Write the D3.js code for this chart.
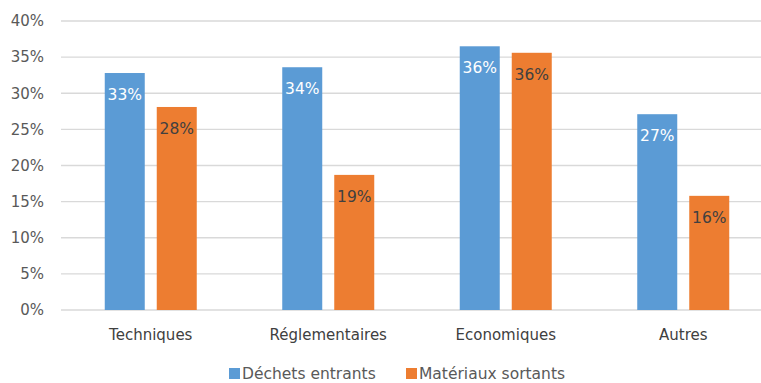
<!DOCTYPE html>
<html><head><meta charset="utf-8">
<script src="https://cdn.jsdelivr.net/npm/d3@7"></script>
<style>body{margin:0;background:#fff}svg{display:block}text{font-family:"DejaVu Sans",Verdana,sans-serif}</style>
</head><body>
<svg id="c" width="761" height="383"></svg>
<script>
const categories = ["Techniques","Réglementaires","Economiques","Autres"];
const seriesNames = ["Déchets entrants","Matériaux sortants"];
const dechets = [32.8, 33.6, 36.5, 27.1];
const materiaux = [28.1, 18.7, 35.6, 15.8];
const labelsDechets = ["33%","34%","36%","27%"];
const labelsMateriaux = ["28%","19%","36%","16%"];
const yTicks = [0,5,10,15,20,25,30,35,40];
const colors = ["#5B9BD5","#ED7D31"];

const FONT = "DejaVu Sans, Verdana, sans-serif";
const svg = d3.select("#c");
const x = d3.scaleBand().domain(categories).range([62, 772]);
const y = d3.scaleLinear().domain([0,40]).range([310, 21]);
const GW = 92;
const inner = d3.scaleBand().domain([0,1]).range([0, GW]).paddingInner(12/52);

// grid
svg.append("g").selectAll("line").data(yTicks).join("line")
  .attr("x1",61).attr("x2",761).attr("y1",d=>y(d)).attr("y2",d=>y(d))
  .attr("stroke","#d9d9d9").attr("stroke-width",1.3);

// y axis
const ya = svg.append("g").attr("transform","translate(44,0)")
  .call(d3.axisLeft(y).tickValues(yTicks).tickFormat(d=>d+"%").tickSize(0).tickPadding(0));
ya.select(".domain").remove();
ya.selectAll("text").attr("fill","#595959").attr("font-size",15).attr("font-family",FONT);

// x axis labels
const xa = svg.append("g").attr("transform","translate(0,0)")
  .call(d3.axisBottom(x).tickSize(0));
xa.select(".domain").remove();
xa.selectAll("text").attr("fill","#404040").attr("font-size",15).attr("y",340).attr("dy",null)
  .attr("font-family",FONT);

const data = [dechets, materiaux];
const labels = [labelsDechets, labelsMateriaux];
data.forEach((vals, s) => {
  const g = svg.append("g");
  const bx = i => x(categories[i]) + (x.bandwidth()-GW)/2 + inner(s);
  g.selectAll("rect").data(vals).join("rect")
    .attr("x",(d,i)=>bx(i))
    .attr("width",inner.bandwidth())
    .attr("y",d=>y(d)).attr("height",d=>y(0)-y(d))
    .attr("fill",colors[s]);
  g.selectAll("text").data(vals).join("text")
    .attr("x",(d,i)=>bx(i) + inner.bandwidth()/2)
    .attr("y",d=>y(d)+27)
    .attr("text-anchor","middle").attr("font-size",15.5)
    .attr("fill", s===0 ? "#ffffff" : "#404040")
    .text((d,i)=>labels[s][i]);
});

// legend
const leg = svg.append("g");
const legX = [229, 406];
seriesNames.forEach((n,i)=>{
  leg.append("rect").attr("x",legX[i]).attr("y",368).attr("width",11).attr("height",11).attr("fill",colors[i]);
  leg.append("text").attr("x",legX[i]+13).attr("y",379).attr("font-size",15.5).attr("fill","#595959")
    .attr("font-family",FONT).text(n);
});
</script>
</body></html>
